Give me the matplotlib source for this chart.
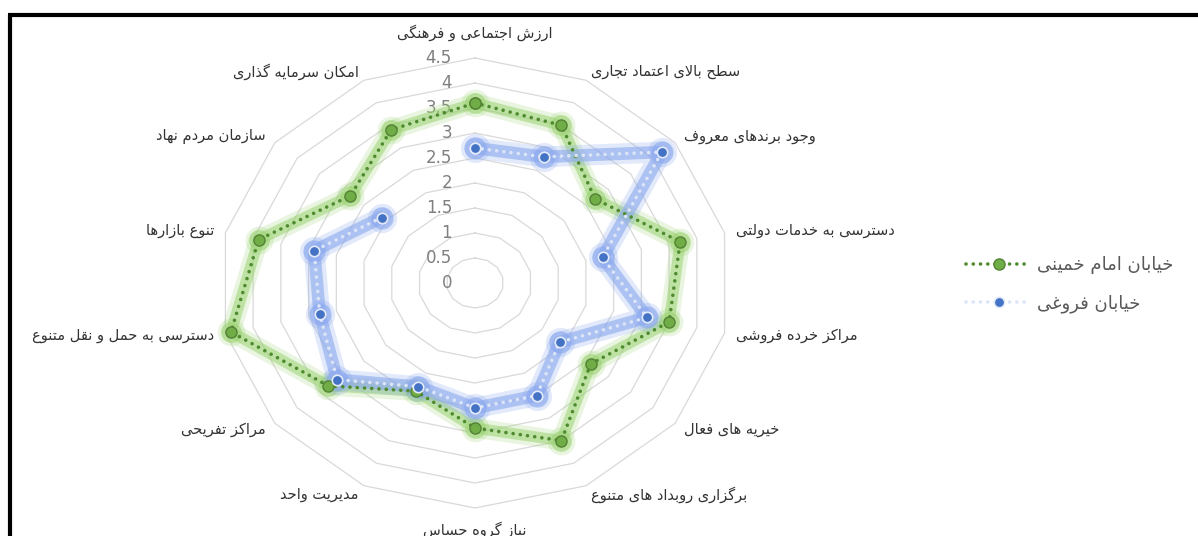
import numpy as np
import matplotlib
matplotlib.use("Agg")
import matplotlib.pyplot as plt
from matplotlib.lines import Line2D
from matplotlib.transforms import offset_copy

plt.rcParams['font.family'] = ['DejaVu Sans']

categories = ["ارزش اجتماعی و فرهنگی", "سطح بالای اعتماد تجاری", "وجود برندهای معروف",
              "دسترسی به خدمات دولتی", "مراکز خرده فروشی", "خیریه های فعال",
              "برگزاری روبداد های متنوع", "نیاز گروه حساس", "مدیریت واحد",
              "مراکز تفریحی", "دسترسی به حمل و نقل متنوع", "تنوع بازارها",
              "سازمان مردم نهاد", "امکان سرمایه گذاری"]
series_names = ["خیابان امام خمینی", "خیابان فروغی"]
khomeini = [3.6, 3.5, 2.7, 3.7, 3.5, 2.6, 3.5, 2.9, 2.4, 3.3, 4.4, 3.9, 2.8, 3.4]
foroughi = [2.7, 2.8, 4.2, 2.3, 3.1, 1.9, 2.5, 2.5, 2.3, 3.1, 2.8, 2.9, 2.1, np.nan]
r_ticks = [0, 0.5, 1, 1.5, 2, 2.5, 3, 3.5, 4, 4.5]
r_tick_labels = ["0", "0.5", "1", "1.5", "2", "2.5", "3", "3.5", "4", "4.5"]


# matplotlib has no arabic shaping, so pick presentation forms by hand
# (isolated, final, initial, medial)
FORMS = {
    'ا': ('\ufe8d', '\ufe8e', None, None), 'آ': ('\ufe81', '\ufe82', None, None),
    'ب': ('\ufe8f', '\ufe90', '\ufe91', '\ufe92'), 'پ': ('\ufb56', '\ufb57', '\ufb58', '\ufb59'),
    'ت': ('\ufe95', '\ufe96', '\ufe97', '\ufe98'), 'ث': ('\ufe99', '\ufe9a', '\ufe9b', '\ufe9c'),
    'ج': ('\ufe9d', '\ufe9e', '\ufe9f', '\ufea0'), 'چ': ('\ufb7a', '\ufb7b', '\ufb7c', '\ufb7d'),
    'ح': ('\ufea1', '\ufea2', '\ufea3', '\ufea4'), 'خ': ('\ufea5', '\ufea6', '\ufea7', '\ufea8'),
    'د': ('\ufea9', '\ufeaa', None, None), 'ذ': ('\ufeab', '\ufeac', None, None),
    'ر': ('\ufead', '\ufeae', None, None), 'ز': ('\ufeaf', '\ufeb0', None, None),
    'ژ': ('\ufb8a', '\ufb8b', None, None),
    'س': ('\ufeb1', '\ufeb2', '\ufeb3', '\ufeb4'), 'ش': ('\ufeb5', '\ufeb6', '\ufeb7', '\ufeb8'),
    'ص': ('\ufeb9', '\ufeba', '\ufebb', '\ufebc'), 'ض': ('\ufebd', '\ufebe', '\ufebf', '\ufec0'),
    'ط': ('\ufec1', '\ufec2', '\ufec3', '\ufec4'), 'ظ': ('\ufec5', '\ufec6', '\ufec7', '\ufec8'),
    'ع': ('\ufec9', '\ufeca', '\ufecb', '\ufecc'), 'غ': ('\ufecd', '\ufece', '\ufecf', '\ufed0'),
    'ف': ('\ufed1', '\ufed2', '\ufed3', '\ufed4'), 'ق': ('\ufed5', '\ufed6', '\ufed7', '\ufed8'),
    '\u06a9': ('\ufb8e', '\ufb8f', '\ufb90', '\ufb91'), 'گ': ('\ufb92', '\ufb93', '\ufb94', '\ufb95'),
    'ل': ('\ufedd', '\ufede', '\ufedf', '\ufee0'), 'م': ('\ufee1', '\ufee2', '\ufee3', '\ufee4'),
    'ن': ('\ufee5', '\ufee6', '\ufee7', '\ufee8'), 'و': ('\ufeed', '\ufeee', None, None),
    'ه': ('\ufee9', '\ufeea', '\ufeeb', '\ufeec'),
    '\u06cc': ('\ufbfc', '\ufbfd', '\ufbfe', '\ufbff'),
}
LAM_ALEF = {'ا': ('\ufefb', '\ufefc'), 'آ': ('\ufef5', '\ufef6')}


def fa(text):
    text = text.replace('\u064a', '\u06cc').replace('\u0643', '\u06a9')
    out = []
    i = 0
    while i < len(text):
        c = text[i]
        if c not in FORMS:
            out.append(c)
            i += 1
            continue
        prev = text[i - 1] if i > 0 else ''
        nxt = text[i + 1] if i + 1 < len(text) else ''
        join_prev = prev in FORMS and FORMS[prev][2] is not None
        if c == 'ل' and nxt in LAM_ALEF:
            out.append(LAM_ALEF[nxt][1 if join_prev else 0])
            i += 2
            continue
        f = FORMS[c]
        join_next = f[2] is not None and nxt in FORMS
        if join_prev and join_next:
            out.append(f[3])
        elif join_prev:
            out.append(f[1])
        elif join_next:
            out.append(f[2])
        else:
            out.append(f[0])
        i += 1
    return ''.join(out)[::-1]


W, H = 1198, 536
fig = plt.figure(figsize=(W / 100, H / 100), dpi=100)
# the reference is stretched sideways, so the radar is an ellipse
ax = fig.add_axes([219 / W, 28 / H, 512 / W, 450 / H], projection='polar')
ax.set_aspect('auto')
ax.set_theta_zero_location('N')
ax.set_theta_direction(-1)
ax.set_ylim(0, 4.5)
ax.set_xticks([])
ax.set_yticks([])
ax.grid(False)
ax.spines['polar'].set_visible(False)
ax.patch.set_alpha(0)

n = len(categories)
angles = np.arange(n) * 2 * np.pi / n
closed = np.append(angles, angles[0])

# polygon grid
for v in r_ticks[1:]:
    ax.plot(closed, [v] * (n + 1), color='#D9D9D9', lw=0.9, zorder=1, clip_on=False)

lab_tr = offset_copy(ax.transData, fig=fig, x=-23, y=0, units='dots')
for v, t in zip(r_ticks, r_tick_labels):
    ax.text(0, v, t, transform=lab_tr, ha='right', va='center', fontsize=12,
            color='#7F7F7F', zorder=3)

for a, name in zip(angles, categories):
    s = np.sin(a)
    if abs(s) < 0.05:
        ax.text(a, 5.0 if np.cos(a) > 0 else 4.93, fa(name), ha='center', va='center',
                fontsize=10.5, color='#333333', clip_on=False)
    else:
        ax.text(a, 4.7, fa(name), ha='left' if s > 0 else 'right', va='center',
                fontsize=10.5, color='#333333', clip_on=False)

g = np.append(khomeini, khomeini[0])
b = np.append(foroughi, foroughi[0])

# soft glow under the lines, two layers each
for lw, ms, al in [(14, 20, 0.22), (8, 15, 0.55)]:
    ax.plot(closed, g, color='#9BD372', lw=lw, alpha=al, solid_joinstyle='round',
            solid_capstyle='round', zorder=4, clip_on=False)
    ax.plot(angles, khomeini, 'o', ms=ms, color='#9BD372', alpha=al, mew=0, zorder=4,
            clip_on=False)
for lw, ms, al in [(15, 21, 0.25), (9, 16, 0.6)]:
    ax.plot(closed, b, color='#8AA8EE', lw=lw, alpha=al, solid_joinstyle='round',
            solid_capstyle='round', zorder=5, clip_on=False)
    ax.plot(angles, foroughi, 'o', ms=ms, color='#8AA8EE', alpha=al, mew=0, zorder=5,
            clip_on=False)

line_g, = ax.plot(closed, g, color='#4E8A2E', lw=2.6, linestyle=(0, (0.01, 2.0)),
                  dash_capstyle='round', marker='o', ms=8, mfc='#70AD47', mec='#548235',
                  mew=1, zorder=6, clip_on=False, label=fa(series_names[0]))
line_b, = ax.plot(closed, b, color='#DCE5F8', lw=2.6, linestyle=(0, (0.01, 2.0)),
                  dash_capstyle='round', marker='o', ms=7.5, mfc='#4472C4', mec='#E4EBF8',
                  mew=1.2, zorder=7, clip_on=False, label=fa(series_names[1]))

leg = fig.legend(handles=[line_g, line_b], loc='upper left',
                 bbox_to_anchor=(950 / W, 1 - 240 / H), frameon=False, fontsize=13,
                 handlelength=3.6, labelspacing=1.1, handletextpad=0.3)
for t in leg.get_texts():
    t.set_color('#595959')

# black frame seen on the top and left edges of the reference
fig.add_artist(Line2D([10 / W, 10 / W], [0, 1 - 14.5 / H], color='black', lw=3,
                      solid_capstyle='butt', transform=fig.transFigure))
fig.add_artist(Line2D([8 / W, 1], [1 - 14.5 / H, 1 - 14.5 / H], color='black', lw=3,
                      solid_capstyle='butt', transform=fig.transFigure))

fig.savefig('out.png', dpi=100)
